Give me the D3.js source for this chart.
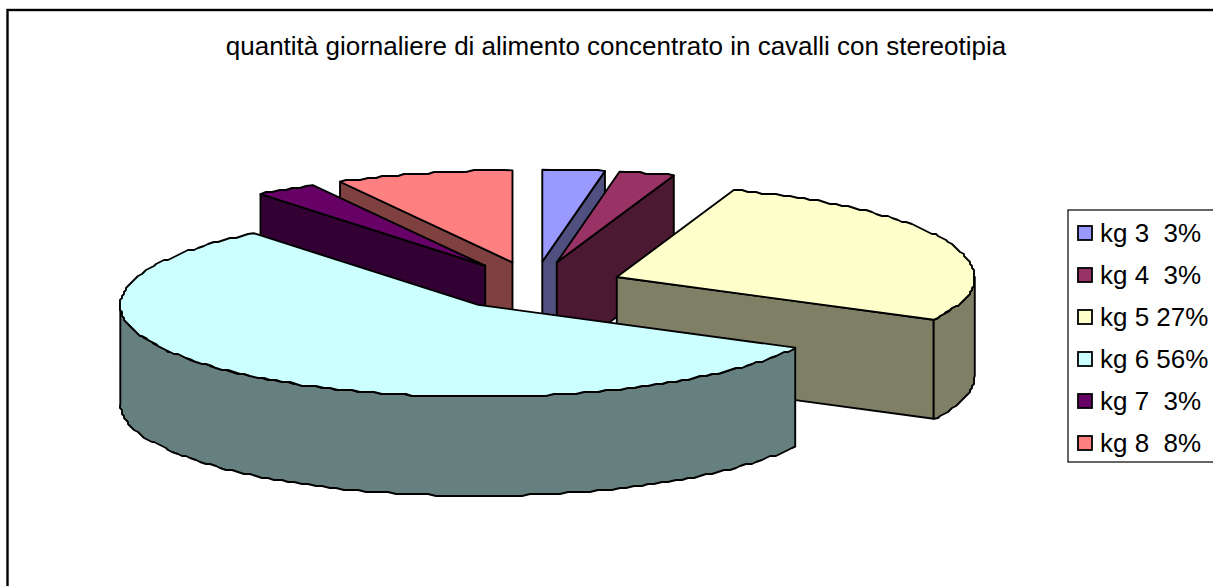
<!DOCTYPE html>
<html><head><meta charset="utf-8">
<script src="https://cdn.jsdelivr.net/npm/d3@7/dist/d3.min.js"></script>
<style>html,body{margin:0;padding:0;background:#fff;overflow:hidden}svg{display:block}text{font-family:"Liberation Sans",Arial,sans-serif;fill:#000;white-space:pre}</style>
</head><body><svg id="c" width="1213" height="586"></svg>
<script>
const titleText = "quantità giornaliere di alimento concentrato in cavalli con stereotipia";
const categories = ["kg 3","kg 4","kg 5","kg 6","kg 7","kg 8"];
const percentLabels = ["  3%","  3%"," 27%"," 56%","  3%","  8%"];
const values = [2.8,2.5,27.4,56.5,2.8,8.0];
const topColors = ["#9999FF","#993366","#FFFFCC","#CCFFFF","#660066","#FF8080"];
const sideColors = ["#4F4F80","#4C1933","#7F7F66","#667F7F","#330033","#7F4040"];
const drawOrder = [0,1,5,4,2,3];

const svg = d3.select("#c");
svg.append("rect").attr("x",7.5).attr("y",10).attr("width",1300).attr("height",700).attr("fill","#fff").attr("stroke","#000").attr("stroke-width",2.4);
svg.append("text").attr("x",616).attr("y",55).attr("text-anchor","middle").attr("font-size",26).text(titleText);

const cx=534.5, cy=286, rx=358, ry=92, ex=88.5, ey=24.4, depth=99;
const sx=d3.scaleLinear().domain([-1,1]).range([cx-rx,cx+rx]);
const sy=d3.scaleLinear().domain([-1,1]).range([cy-ry,cy+ry]);
const pie=d3.pie().sort(null).value(d=>d)(values);
const line=d3.line();
const q=v=>Math.round(v/2)*2;
const pts=(a,o,h)=>{const out=[];const n=Math.max(2,Math.ceil(Math.abs(o-a)/0.022));
  for(let i=0;i<=n;i++){const t=a+(o-a)*i/n;out.push(t);}
  return out.map((t,i)=>(i===0||i===n)
    ?[sx(Math.sin(t))+h[0],sy(-Math.cos(t))+h[1]]
    :[q(sx(Math.sin(t))+h[0]),q(sy(-Math.cos(t))+h[1])]);};
const g=svg.append("g").attr("stroke","#000").attr("stroke-width",1.9).attr("stroke-linejoin","round");
drawOrder.forEach(i=>{
  const d=pie[i],a=d.startAngle,b=d.endAngle,m=(a+b)/2;
  const off=[ex*Math.sin(m),-ey*Math.cos(m)];
  const apex=[sx(0)+off[0],sy(0)+off[1]];
  const wall=t=>{const p=[sx(Math.sin(t))+off[0],sy(-Math.cos(t))+off[1]];
    g.append("path").attr("fill",sideColors[i]).attr("d",line([apex,p,[p[0],p[1]+depth],[apex[0],apex[1]+depth]])+"Z");};
  if(Math.sin(a)<-1e-6) wall(a);
  if(Math.sin(b)>1e-6) wall(b);
  const lo=Math.max(a,Math.PI/2),hi=Math.min(b,3*Math.PI/2);
  if(hi>lo){const up=pts(lo,hi,off),down=pts(hi,lo,[off[0],off[1]+depth]);
    g.append("path").attr("fill",sideColors[i]).attr("d",line(up.concat(down))+"Z");}
  g.append("path").attr("fill",topColors[i]).attr("d",line([apex].concat(pts(a,b,off)))+"Z");
});

const legendY=d3.scalePoint().domain(categories).range([233,443]);
svg.append("rect").attr("x",1068).attr("y",210).attr("width",200).attr("height",252).attr("fill","#fff").attr("stroke","#000").attr("stroke-width",1.2);
categories.forEach((c,i)=>{
  const y=legendY(c);
  svg.append("rect").attr("x",1078).attr("y",y-7).attr("width",14).attr("height",14).attr("fill",topColors[i]).attr("stroke","#000").attr("stroke-width",1.8);
  svg.append("text").attr("x",1100).attr("y",y+8.5).attr("font-size",26).text(c+percentLabels[i]);
});
</script></body></html>
